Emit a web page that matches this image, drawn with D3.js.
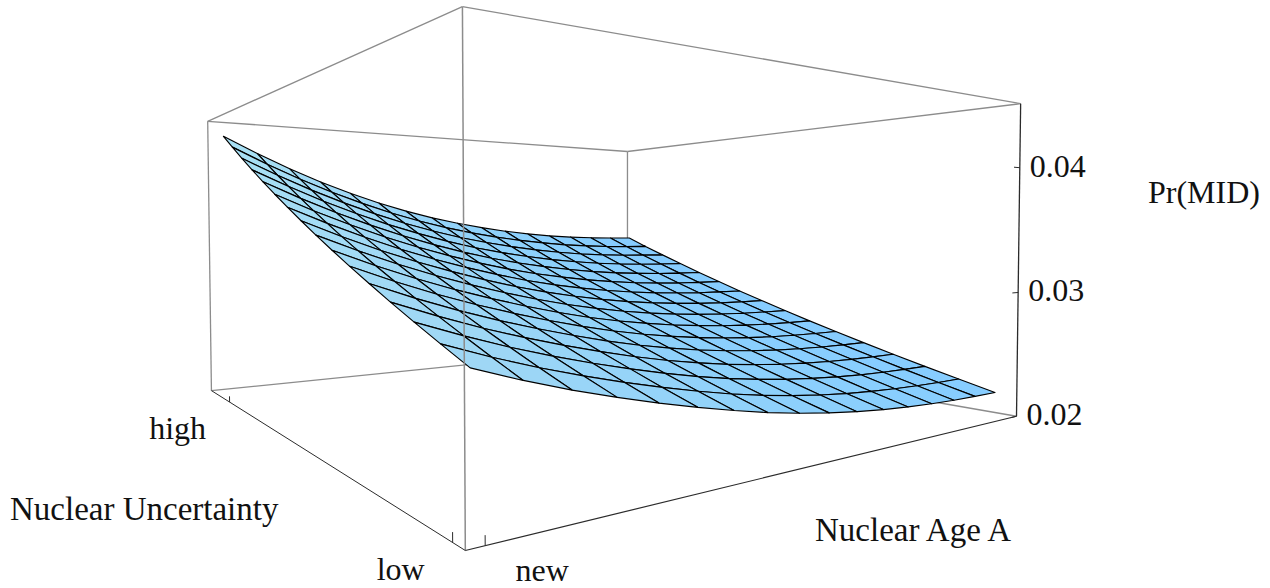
<!DOCTYPE html>
<html>
<head>
<meta charset="utf-8">
<script src="https://d3js.org/d3.v7.min.js"></script>
<style>
  html, body { margin: 0; background: #fff; }
  svg { display: block; }
  text { font-family: "Liberation Serif", "Times New Roman", serif; font-size: 32px; fill: #111; }
  text.title { font-size: 33px; }
</style>
</head>
<body>
<svg id="chart" width="1270" height="588"></svg>
<script>
// Mesh positions, 0 = new / low and 1 = old / high
let ageSteps = [0, .0625, .125, .1875, .25, .3125, .375, .4375, .5, .5625, .625, .6875, .75, .8125, .875, .9375, 1];
let uncertaintySteps = [0, .0667, .1333, .2, .2667, .3333, .4, .4667, .5333, .6, .6667, .7333, .8, .8667, .9333, 1];

// Pr(MID), one row per uncertainty step
let prMid = [
  [.02819, .02727, .02645, .02572, .02505, .02444, .02388, .02338, .02296, .02261, .02232, .02210, .02193, .02181, .02173, .02169, .02167],
  [.02903, .02808, .02723, .02648, .02579, .02516, .02459, .02408, .02365, .02329, .02300, .02277, .02260, .02248, .02240, .02236, .02234],
  [.02989, .02892, .02804, .02726, .02655, .02591, .02532, .02480, .02436, .02400, .02370, .02347, .02329, .02316, .02308, .02304, .02302],
  [.03078, .02978, .02887, .02807, .02734, .02668, .02607, .02554, .02510, .02472, .02442, .02418, .02400, .02387, .02379, .02375, .02373],
  [.03170, .03066, .02973, .02890, .02815, .02747, .02685, .02631, .02585, .02547, .02516, .02492, .02473, .02460, .02452, .02448, .02446],
  [.03264, .03157, .03061, .02975, .02898, .02828, .02765, .02709, .02663, .02624, .02592, .02567, .02548, .02535, .02527, .02523, .02521],
  [.03361, .03251, .03152, .03063, .02984, .02912, .02847, .02790, .02743, .02704, .02671, .02646, .02626, .02613, .02604, .02600, .02598],
  [.03461, .03348, .03245, .03154, .03072, .02998, .02932, .02874, .02826, .02785, .02752, .02726, .02706, .02693, .02684, .02680, .02678],
  [.03564, .03447, .03342, .03247, .03163, .03087, .03019, .02960, .02911, .02870, .02835, .02809, .02789, .02775, .02766, .02762, .02761],
  [.03670, .03550, .03441, .03343, .03256, .03178, .03109, .03048, .02998, .02956, .02922, .02895, .02874, .02860, .02851, .02847, .02845],
  [.03779, .03655, .03543, .03442, .03352, .03272, .03201, .03139, .03088, .03046, .03010, .02983, .02961, .02947, .02938, .02934, .02933],
  [.03891, .03764, .03648, .03544, .03451, .03369, .03296, .03233, .03181, .03138, .03102, .03073, .03051, .03037, .03028, .03024, .03023],
  [.04007, .03876, .03756, .03649, .03553, .03469, .03394, .03330, .03277, .03233, .03196, .03167, .03145, .03130, .03121, .03117, .03116],
  [.04126, .03991, .03867, .03757, .03658, .03571, .03495, .03430, .03376, .03331, .03293, .03263, .03240, .03226, .03217, .03213, .03212],
  [.04249, .04110, .03982, .03868, .03767, .03677, .03599, .03532, .03477, .03431, .03393, .03363, .03339, .03324, .03315, .03311, .03310],
  [.04375, .04232, .04100, .03982, .03878, .03786, .03706, .03638, .03582, .03535, .03496, .03465, .03441, .03426, .03417, .03413, .03412]
];

let prTicks = [.02, .03, .04];
let uncertaintyTicks = [-.01, .87];
let uncertaintyLabels = ['low', 'high'];
let ageTicks = [-.004];
let ageLabels = ['new'];

// Screen position of the eight box corners, the camera is fitted to these
let boxCorners = [
  [0, 0, 0, 465.5, 550], [1, 0, 0, 1016, 417], [0, 1, 0, 211, 391], [1, 1, 0, 628, 348],
  [0, 0, 1, 462.5, 7], [1, 0, 1, 1021, 103], [0, 1, 1, 208, 121], [1, 1, 1, 627, 152]
];

// Least squares for the 3x4 projection matrix
function fitCamera() {
  let rows = [], rhs = [];
  boxCorners.forEach(([X, Y, Z, x, y]) => {
    rows.push([X, Y, Z, 1, 0, 0, 0, 0, -x * X, -x * Y, -x * Z]); rhs.push(x);
    rows.push([0, 0, 0, 0, X, Y, Z, 1, -y * X, -y * Y, -y * Z]); rhs.push(y);
  });
  let n = 11;
  let m = d3.range(n).map(i => d3.range(n + 1).map(j =>
    j < n ? d3.sum(rows, r => r[i] * r[j]) : d3.sum(rows, (r, k) => r[i] * rhs[k])));
  for (let c = 0; c < n; c++) {
    let p = c;
    for (let r = c; r < n; r++) if (Math.abs(m[r][c]) > Math.abs(m[p][c])) p = r;
    [m[c], m[p]] = [m[p], m[c]];
    for (let r = 0; r < n; r++) {
      if (r === c) continue;
      let f = m[r][c] / m[c][c];
      for (let k = c; k <= n; k++) m[r][k] -= f * m[c][k];
    }
  }
  return d3.range(n).map(i => m[i][n] / m[i][i]);
}
let cam = fitCamera();

function toScreen(X, Y, Z) {
  let w = cam[8] * X + cam[9] * Y + cam[10] * Z + 1;
  return [(cam[0] * X + cam[1] * Y + cam[2] * Z + cam[3]) / w,
          (cam[4] * X + cam[5] * Y + cam[6] * Z + cam[7]) / w];
}

let ageScale = d3.scaleLinear().domain([0, 1]).range([.025, .998]);
let uncertaintyScale = d3.scaleLinear().domain([0, 1]).range([.035, .99]);
let prScale = d3.scaleLinear().domain([.02, .0451]).range([0, 1]);
let shade = d3.scaleLinear().domain([.00002, .0004, .00092, .00143])
              .range(['#87cdff', '#8ed1fb', '#9fd7f5', '#a9e1f4']);

let svg = d3.select('#chart');
let line = d3.line();

function drawEdge(a, b, color, width) {
  svg.append('path')
     .attr('d', line([toScreen(...a), toScreen(...b)]))
     .attr('fill', 'none')
     .attr('stroke', color)
     .attr('stroke-width', width);
}

// Back of the box, the surface covers part of it
let grey = '#8c8c8c';
[[[0, 1, 0], [1, 1, 0]], [[1, 1, 0], [1, 0, 0]], [[1, 1, 0], [1, 1, 1]], [[0, 1, 0], [0, 1, 1]],
 [[0, 1, 1], [1, 1, 1]], [[1, 1, 1], [1, 0, 1]], [[0, 1, 1], [0, 0, 1]], [[0, 0, 1], [1, 0, 1]]]
  .forEach(e => drawEdge(e[0], e[1], grey, 1.3));

// Surface facets, far corner first
let facets = [];
d3.range(uncertaintySteps.length - 2, -1, -1).forEach(j => {
  d3.range(ageSteps.length - 2, -1, -1).forEach(i => {
    facets.push({ i, j });
  });
});

svg.append('g').selectAll('path')
   .data(facets)
   .enter()
   .append('path')
   .attr('d', f => line([[f.i, f.j], [f.i + 1, f.j], [f.i + 1, f.j + 1], [f.i, f.j + 1]].map(([a, u]) =>
     toScreen(ageScale(ageSteps[a]), uncertaintyScale(uncertaintySteps[u]), prScale(prMid[u][a])))) + 'Z')
   .attr('fill', f => shade(prMid[f.j][f.i] - prMid[f.j][f.i + 1]))
   .attr('stroke', '#000')
   .attr('stroke-width', 1.15)
   .attr('stroke-linejoin', 'round');

// Front of the box and the three axes
drawEdge([0, 0, 0], [0, 0, 1], grey, 1.5);
let dark = '#2b2b2b';
drawEdge([0, 0, 0], [0, 1, 0], dark, 1);
drawEdge([0, 0, 0], [1, 0, 0], dark, 1.2);
drawEdge([1, 0, 0], [1, 0, 1], dark, 1.3);

let label = (txt, x, y, anchor) => svg.append('text')
  .attr('x', x).attr('y', y).attr('text-anchor', anchor || 'start').text(txt);

uncertaintyTicks.forEach((t, i) => {
  let v = uncertaintyScale(t);
  drawEdge([0, v, 0], [0, v, .02], dark, 1);
  let p = toScreen(0, v, 0);
  label(uncertaintyLabels[i], p[0] - 52, p[1] + 37, 'middle');
});

ageTicks.forEach((t, i) => {
  let u = ageScale(t);
  drawEdge([u, 0, 0], [u, 0, .02], dark, 1);
  let p = toScreen(u, 0, 0);
  label(ageLabels[i], p[0] + 57, p[1] + 35, 'middle');
});

prTicks.forEach(t => {
  let z = prScale(t);
  drawEdge([1, 0, z], [.982, 0, z], dark, 1);
  let p = toScreen(1, 0, z);
  label(d3.format('.2f')(t), p[0] + 10, p[1] + 9);
});

label('Nuclear Uncertainty', 10, 520).attr('class', 'title');
label('Nuclear Age A', 815, 541).attr('class', 'title');
label('Pr(MID)', 1148, 203);
</script>
</body>
</html>
